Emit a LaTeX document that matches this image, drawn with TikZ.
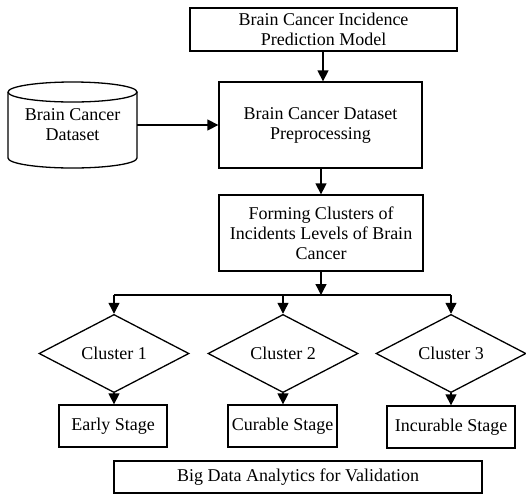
\documentclass[tikz,border=0pt]{standalone}
\usepackage{fontspec}
\setmainfont{Liberation Serif}
\usetikzlibrary{shapes.geometric,arrows.meta}
\begin{document}
\begin{tikzpicture}[x=1pt,y=-1pt,
  every node/.style={font=\fontsize{18}{20}\selectfont, inner sep=0pt, align=center},
  box/.style={draw, rectangle, line width=1.3pt},
  dia/.style={draw, diamond, line width=1.3pt, minimum width=150pt, minimum height=73pt},
  arr/.style={line width=1.3pt, -{Triangle[length=11pt,width=11pt]}},
  ln/.style={line width=1.3pt}]
\useasboundingbox (0,0) rectangle (526,496);
\node[box, minimum width=267pt, minimum height=43pt] (top) at (323.5,29.5) {Brain Cancer Incidence\\Prediction Model};
\node[box, minimum width=203pt, minimum height=86pt] (prep) at (320.5,125) {Brain Cancer Dataset\\Preprocessing};
\node[minimum width=129pt, minimum height=86pt] (db) at (72.5,125) {Brain Cancer\\Dataset};
\draw[ln] (8,92) arc[start angle=180, end angle=-180, x radius=64.5pt, y radius=10pt];
\draw[ln] (8,92) -- (8,158) arc[start angle=180, end angle=360, x radius=64.5pt, y radius=10pt] -- (137,92);
\node[box, minimum width=204pt, minimum height=76pt] (form) at (321,233) {Forming Clusters of\\Incidents Levels of Brain\\Cancer};
\coordinate (bm) at (321,295);
\coordinate (bl) at (114,295);
\coordinate (br) at (451,295);
\node[dia] (d1) at (114,353.5) {Cluster 1};
\node[dia] (d2) at (283,353.5) {Cluster 2};
\node[dia] (d3) at (451,353.5) {Cluster 3};
\node[box, minimum width=108pt, minimum height=42pt] (e1) at (113,426) {Early Stage};
\node[box, minimum width=109pt, minimum height=42pt] (e2) at (282.5,426) {Curable Stage};
\node[box, minimum width=128pt, minimum height=42pt] (e3) at (451,427) {Incurable Stage};
\node[box, minimum width=368pt, minimum height=32pt] (big) at (298,477) {Big Data Analytics for Validation};
\draw[arr] (top.south -| 323,0) -- (prep.north -| 323,0);
\draw[arr] (db.east) -- (prep.west);
\draw[arr] (prep.south -| form.south) -- (form.north);
\draw[arr] (form.south) -- (bm);
\draw[ln] (bl) -- (br);
\draw[arr] (bl) -- (d1.north);
\draw[arr] (d2.north |- bl) -- (d2.north);
\draw[arr] (br) -- (d3.north);
\draw[arr] (d1.south) -- (d1.south |- e1.north);
\draw[arr] (d2.south) -- (d2.south |- e2.north);
\draw[arr] (d3.south) -- (d3.south |- e3.north);
\end{tikzpicture}
\end{document}
